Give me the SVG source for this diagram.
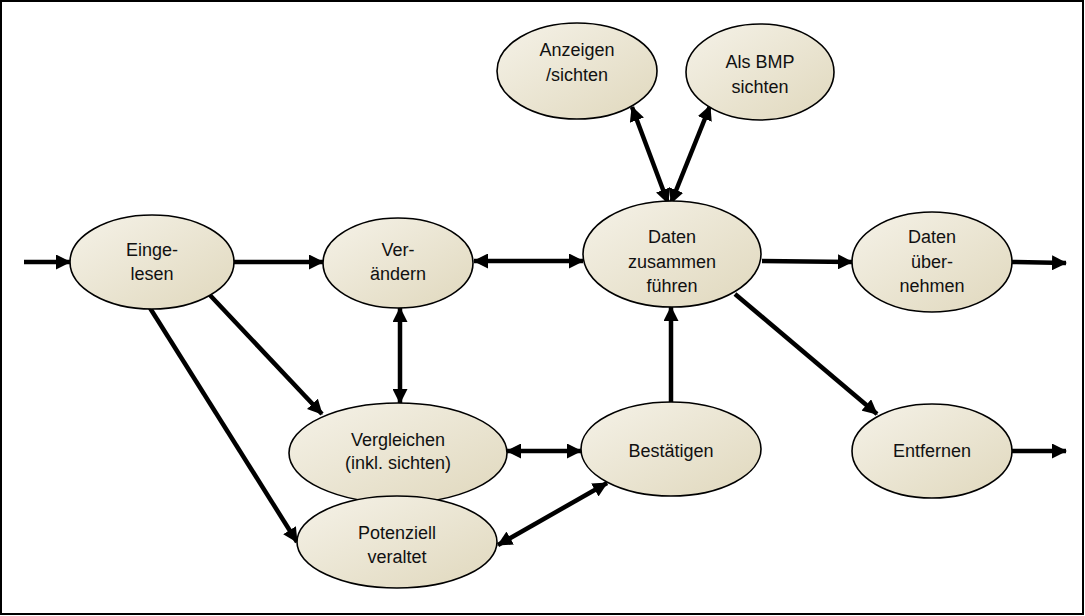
<svg xmlns="http://www.w3.org/2000/svg" width="1085" height="616" viewBox="0 0 1085 616">
<defs>
<linearGradient id="g" x1="0" y1="0" x2="1" y2="1">
<stop offset="0" stop-color="#f5f2e8"/>
<stop offset="1" stop-color="#e0d8bd"/>
</linearGradient>
<marker id="a" viewBox="0 0 15 15" refX="14" refY="7.5" markerWidth="15" markerHeight="15" markerUnits="userSpaceOnUse" orient="auto-start-reverse">
<path d="M0,0 L15,7.5 L0,15 Z" fill="#000"/>
</marker>
<style>
.n ellipse{fill:url(#g);stroke:#000;stroke-width:1.6}
.n text{font-family:"Liberation Sans",Arial,sans-serif;font-size:18px;fill:#111;text-anchor:middle}
.c line{stroke:#000;stroke-width:4.5;fill:none}
.e{marker-end:url(#a)}
.b{marker-start:url(#a);marker-end:url(#a)}
</style>
</defs>
<rect x="0" y="0" width="1085" height="616" fill="#fff"/>
<rect x="1" y="1" width="1082" height="613" fill="none" stroke="#000" stroke-width="2"/>
<g class="c" id="connectors">
<line class="e" x1="24" y1="262" x2="70" y2="262"/>
<line class="e" x1="233" y1="262" x2="323" y2="262"/>
<line class="b" x1="474" y1="261" x2="583" y2="261"/>
<line class="e" x1="762" y1="261" x2="852" y2="262"/>
<line class="e" x1="1012" y1="262" x2="1066" y2="263"/>
<line class="e" x1="1012" y1="451" x2="1066" y2="451"/>
<line class="e" x1="735" y1="294" x2="877" y2="414"/>
<line class="e" x1="207" y1="292" x2="322" y2="414"/>
<line class="e" x1="150" y1="308" x2="297" y2="542"/>
<line class="b" x1="400" y1="308" x2="400" y2="403"/>
<line class="b" x1="507" y1="451" x2="581" y2="451"/>
<line class="b" x1="498" y1="545" x2="607" y2="483"/>
<line class="e" x1="671" y1="402" x2="671" y2="307"/>
<line class="b" x1="668" y1="203" x2="632" y2="107"/>
<line class="b" x1="671" y1="203" x2="710" y2="106"/>
</g>
<g class="n" id="eingelesen"><ellipse cx="152" cy="262" rx="82" ry="47"/><text x="152" y="256">Einge-</text><text x="152" y="280">lesen</text></g>
<g class="n" id="veraendern"><ellipse cx="398" cy="263" rx="75" ry="45"/><text x="398" y="256">Ver-</text><text x="398" y="280">ändern</text></g>
<g class="n" id="zusammen"><ellipse cx="672" cy="254" rx="89" ry="53"/><text x="672" y="243">Daten</text><text x="672" y="268">zusammen</text><text x="672" y="292">führen</text></g>
<g class="n" id="uebernehmen"><ellipse cx="932" cy="262" rx="80" ry="50"/><text x="932" y="243">Daten</text><text x="932" y="268">über-</text><text x="932" y="292">nehmen</text></g>
<g class="n" id="anzeigen"><ellipse cx="577" cy="71" rx="80" ry="48"/><text x="577" y="56">Anzeigen</text><text x="577" y="81">/sichten</text></g>
<g class="n" id="bmp"><ellipse cx="760" cy="72" rx="74" ry="48"/><text x="760" y="68">Als BMP</text><text x="760" y="93">sichten</text></g>
<g class="n" id="vergleichen"><ellipse cx="398" cy="453" rx="109" ry="50"/><text x="398" y="446">Vergleichen</text><text x="398" y="469">(inkl. sichten)</text></g>
<g class="n" id="bestaetigen"><ellipse cx="671" cy="449" rx="90" ry="47"/><text x="671" y="457">Bestätigen</text></g>
<g class="n" id="veraltet"><ellipse cx="397" cy="542" rx="100" ry="46"/><text x="397" y="539">Potenziell</text><text x="397" y="563">veraltet</text></g>
<g class="n" id="entfernen"><ellipse cx="932" cy="451" rx="80" ry="47"/><text x="932" y="457">Entfernen</text></g>
</svg>
